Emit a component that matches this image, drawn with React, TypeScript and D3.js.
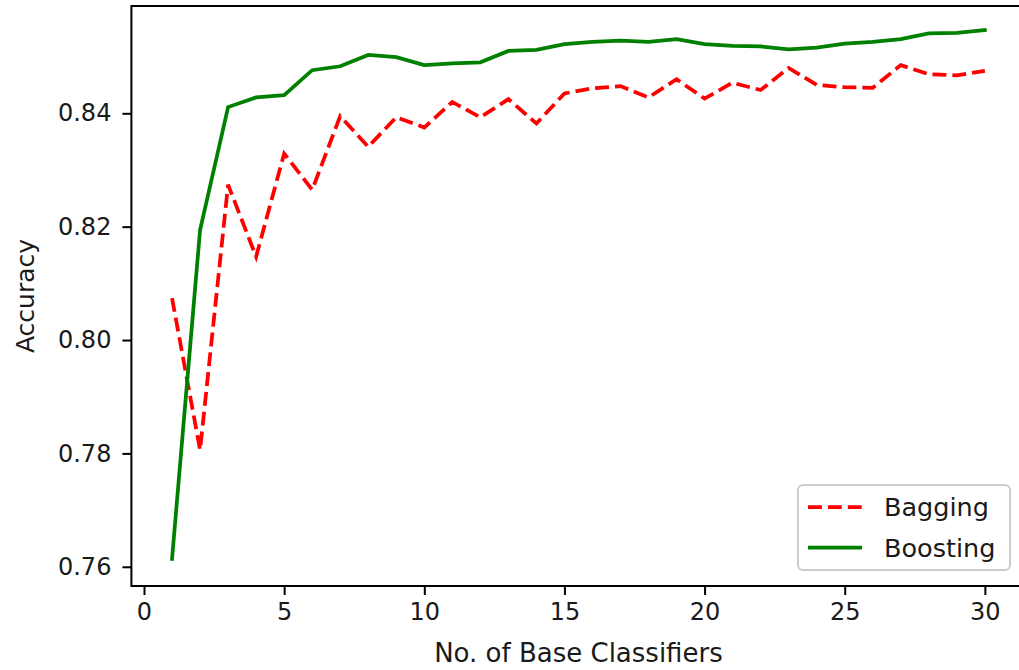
import React, { useEffect, useRef } from 'react';
import * as d3 from 'd3';

// number of base classifiers
const classifiers = d3.range(1, 31);

const bagging = [
  0.8074, 0.7806, 0.8274, 0.8147, 0.8329, 0.8265, 0.8395, 0.8341, 0.8393, 0.8375,
  0.842, 0.8393, 0.8425, 0.8382, 0.8435, 0.8444, 0.8448, 0.8428, 0.846, 0.8426,
  0.8454, 0.8441, 0.848, 0.845, 0.8446, 0.8445, 0.8485, 0.8469, 0.8467, 0.8475,
];

const boosting = [
  0.7614, 0.8194, 0.8411, 0.8428, 0.8432, 0.8476, 0.8483, 0.8503, 0.8499, 0.8485,
  0.8488, 0.849, 0.851, 0.8512, 0.8522, 0.8526, 0.8528, 0.8526, 0.8531, 0.8522,
  0.8519, 0.8518, 0.8513, 0.8516, 0.8523, 0.8526, 0.8531, 0.8541, 0.8542, 0.8547,
];

const xTicks = [0, 5, 10, 15, 20, 25, 30];
const yTicks = [0.76, 0.78, 0.8, 0.82, 0.84];

const FONT = 'DejaVu Sans, sans-serif';

const App = () => {
  const svgRef = useRef<SVGSVGElement>(null);

  useEffect(() => {
    const svg = d3.select(svgRef.current);
    svg.selectAll('*').remove(); // Clear existing content

    const left = 131.4;
    const right = 1025.5;
    const top = 6;
    const bottom = 586;

    const x = d3.scaleLinear().domain([-0.45, 31.45]).range([left, right]);
    const y = d3.scaleLinear().domain([0.75661, 0.85893]).range([bottom, top]);

    const line = d3
      .line<number>()
      .x((d, i) => x(classifiers[i]))
      .y((d) => y(d));

    const plot = svg.append('g');

    plot
      .append('path')
      .datum(bagging)
      .attr('d', line)
      .attr('fill', 'none')
      .attr('stroke', '#ff0000')
      .attr('stroke-width', 3.75)
      .attr('stroke-dasharray', '13.9,6');

    plot
      .append('path')
      .datum(boosting)
      .attr('d', line)
      .attr('fill', 'none')
      .attr('stroke', '#008000')
      .attr('stroke-width', 3.75)
      .attr('stroke-linecap', 'square');

    // spines
    const spines = svg.append('g').attr('stroke', '#000').attr('stroke-width', 2).attr('fill', 'none');
    spines.append('rect').attr('x', left).attr('y', top).attr('width', right - left).attr('height', bottom - top);

    // x axis
    const xAxis = svg
      .append('g')
      .attr('transform', `translate(0,${bottom})`)
      .call(d3.axisBottom(x).tickValues(xTicks).tickSize(9).tickPadding(8).tickFormat(d3.format('d')));
    xAxis.select('.domain').remove();
    xAxis.selectAll('line').attr('stroke', '#000').attr('stroke-width', 2);
    xAxis.selectAll('text').attr('font-family', FONT).attr('font-size', 24).attr('fill', '#1a1a1a');

    // y axis
    const yAxis = svg
      .append('g')
      .attr('transform', `translate(${left},0)`)
      .call(d3.axisLeft(y).tickValues(yTicks).tickSize(9).tickPadding(11).tickFormat(d3.format('.2f')));
    yAxis.select('.domain').remove();
    yAxis.selectAll('line').attr('stroke', '#000').attr('stroke-width', 2);
    yAxis.selectAll('text').attr('font-family', FONT).attr('font-size', 24).attr('fill', '#1a1a1a');

    // axis labels
    svg
      .append('text')
      .attr('x', (left + right) / 2)
      .attr('y', 662)
      .attr('text-anchor', 'middle')
      .attr('font-family', FONT)
      .attr('font-size', 26)
      .attr('fill', '#1a1a1a')
      .text('No. of Base Classifiers');

    svg
      .append('text')
      .attr('transform', `translate(34,${(top + bottom) / 2}) rotate(-90)`)
      .attr('text-anchor', 'middle')
      .attr('font-family', FONT)
      .attr('font-size', 25)
      .attr('fill', '#1a1a1a')
      .text('Accuracy');

    // legend
    const legend = svg.append('g').attr('transform', 'translate(798,485)');
    legend
      .append('rect')
      .attr('width', 212)
      .attr('height', 85)
      .attr('rx', 5)
      .attr('fill', '#fff')
      .attr('fill-opacity', 0.8)
      .attr('stroke', '#cccccc')
      .attr('stroke-width', 2);

    const items = [
      { label: 'Bagging', color: '#ff0000', dash: '13.9,6' },
      { label: 'Boosting', color: '#008000', dash: null },
    ];

    items.forEach((item, i) => {
      const cy = 22 + i * 40.5;
      legend
        .append('line')
        .attr('x1', 10)
        .attr('x2', 64)
        .attr('y1', cy)
        .attr('y2', cy)
        .attr('stroke', item.color)
        .attr('stroke-width', 3.75)
        .attr('stroke-dasharray', item.dash);
      legend
        .append('text')
        .attr('x', 86)
        .attr('y', cy)
        .attr('dominant-baseline', 'central')
        .attr('font-family', FONT)
        .attr('font-size', 25.5)
        .attr('fill', '#1a1a1a')
        .text(item.label);
    });
  }, []);

  return (
    <svg
      ref={svgRef}
      width={1019}
      height={670}
      style={{ position: 'absolute', left: 0, top: 0, background: '#fff' }}
    />
  );
};

export default App;
